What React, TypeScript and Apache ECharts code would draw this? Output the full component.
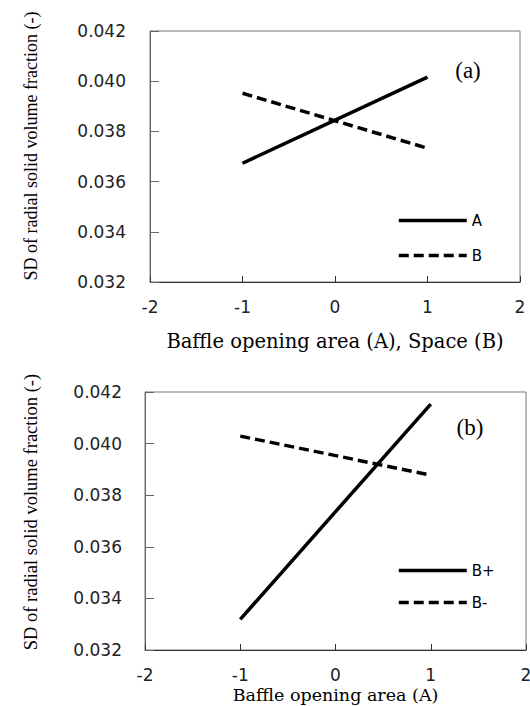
import React, { useEffect, useRef } from "react";
import * as echarts from "echarts";

const factorLevels = [-1, 1];
const seriesA = [0.03673, 0.04016];
const seriesB = [0.03952, 0.03733];
const seriesBPlus = [0.03319, 0.04153];
const seriesBMinus = [0.04029, 0.03878];

const namesTop = ["A", "B"];
const namesBottom = ["B+", "B-"];
const yTitle = "SD of radial solid volume fraction (-)";
const xTitleTop = "Baffle opening area (A), Space (B)";
const xTitleBottom = "Baffle opening area (A)";
const panelLabels = ["(a)", "(b)"];

const toPoints = (vals: number[]) => factorLevels.map((x, i) => [x, vals[i]]);

export default function App() {
  const ref = useRef<HTMLDivElement>(null);
  useEffect(() => {
    if (!ref.current) return;
    const chart = echarts.init(ref.current, undefined, { renderer: "svg" });
    const tickFont = { fontFamily: "DejaVu Sans", fontSize: 17, color: "#222" };
    const mkX = (gridIndex: number, name: string, gap: number, size: number) => ({
      type: "value",
      gridIndex,
      min: -2,
      max: 2,
      interval: 1,
      name,
      nameLocation: "middle",
      nameGap: gap,
      nameTextStyle: { fontFamily: "DejaVu Serif", fontSize: size, color: "#000" },
      axisLine: { show: true, onZero: false, lineStyle: { color: "#333", width: 1 } },
      axisTick: { show: true, inside: true, length: 6, lineStyle: { color: "#333" } },
      axisLabel: { ...tickFont, margin: 16 },
      splitLine: { show: false },
    });
    const mkY = (gridIndex: number, margin: number) => ({
      type: "value",
      gridIndex,
      min: 0.032,
      max: 0.042,
      interval: 0.002,
      axisLine: { show: true, onZero: false, lineStyle: { color: "#666", width: 1 } },
      axisTick: { show: true, inside: true, length: 9, lineStyle: { color: "#666" } },
      axisLabel: { ...tickFont, margin, formatter: (v: number) => v.toFixed(3) },
      splitLine: { show: false },
    });
    const lineSeries = (name: string, vals: number[], idx: number, dashed: boolean) => ({
      type: "line",
      name,
      xAxisIndex: idx,
      yAxisIndex: idx,
      data: toPoints(vals),
      symbol: "none",
      lineStyle: { color: "#000", width: 3.5, type: dashed ? [10, 5] : "solid" },
      itemStyle: { color: "#000" },
    });
    const legendBase = {
      orient: "vertical",
      itemWidth: 68,
      itemHeight: 16,
      textStyle: { fontFamily: "DejaVu Sans", fontSize: 15, color: "#000" },
      lineStyle: { width: 3.5, color: "#000" },
      itemStyle: { opacity: 0 },
    };
    const yTitleStyle = (size: number) => ({
      text: yTitle,
      fontFamily: "Liberation Serif",
      fontSize: size,
      fill: "#000",
      align: "center",
      verticalAlign: "middle",
    });
    const panelStyle = (t: string) => ({
      text: t,
      fontFamily: "Liberation Serif",
      fontSize: 23,
      fill: "#000",
      align: "center",
      verticalAlign: "middle",
    });
    chart.setOption({
      animation: false,
      backgroundColor: "#fff",
      grid: [
        { left: 150, top: 31, width: 370, height: 251, show: true, borderColor: "#777", borderWidth: 1, outerBoundsMode: "none", containLabel: false },
        { left: 145, top: 392, width: 381, height: 258, show: true, borderColor: "#777", borderWidth: 1, outerBoundsMode: "none", containLabel: false },
      ],
      xAxis: [mkX(0, xTitleTop, 49, 19.5), mkX(1, xTitleBottom, 36, 17.5)],
      yAxis: [mkY(0, 24), mkY(1, 23)],
      legend: [
        { ...legendBase, left: 392, top: 208, itemGap: 20, data: namesTop },
        { ...legendBase, left: 392, top: 558, itemGap: 17, data: namesBottom },
      ],
      series: [
        lineSeries(namesTop[0], seriesA, 0, false),
        lineSeries(namesTop[1], seriesB, 0, true),
        lineSeries(namesBottom[0], seriesBPlus, 1, false),
        lineSeries(namesBottom[1], seriesBMinus, 1, true),
      ],
      graphic: [
        { type: "text", x: 31, y: 146, rotation: Math.PI / 2, style: yTitleStyle(18) },
        { type: "text", x: 31, y: 512, rotation: Math.PI / 2, style: yTitleStyle(18.5) },
        { type: "text", x: 468, y: 70, style: panelStyle(panelLabels[0]) },
        { type: "text", x: 470, y: 427, style: panelStyle(panelLabels[1]) },
      ],
    });
    return () => chart.dispose();
  }, []);
  return <div ref={ref} style={{ position: "fixed", left: 0, top: 0, width: 530, height: 706 }} />;
}
